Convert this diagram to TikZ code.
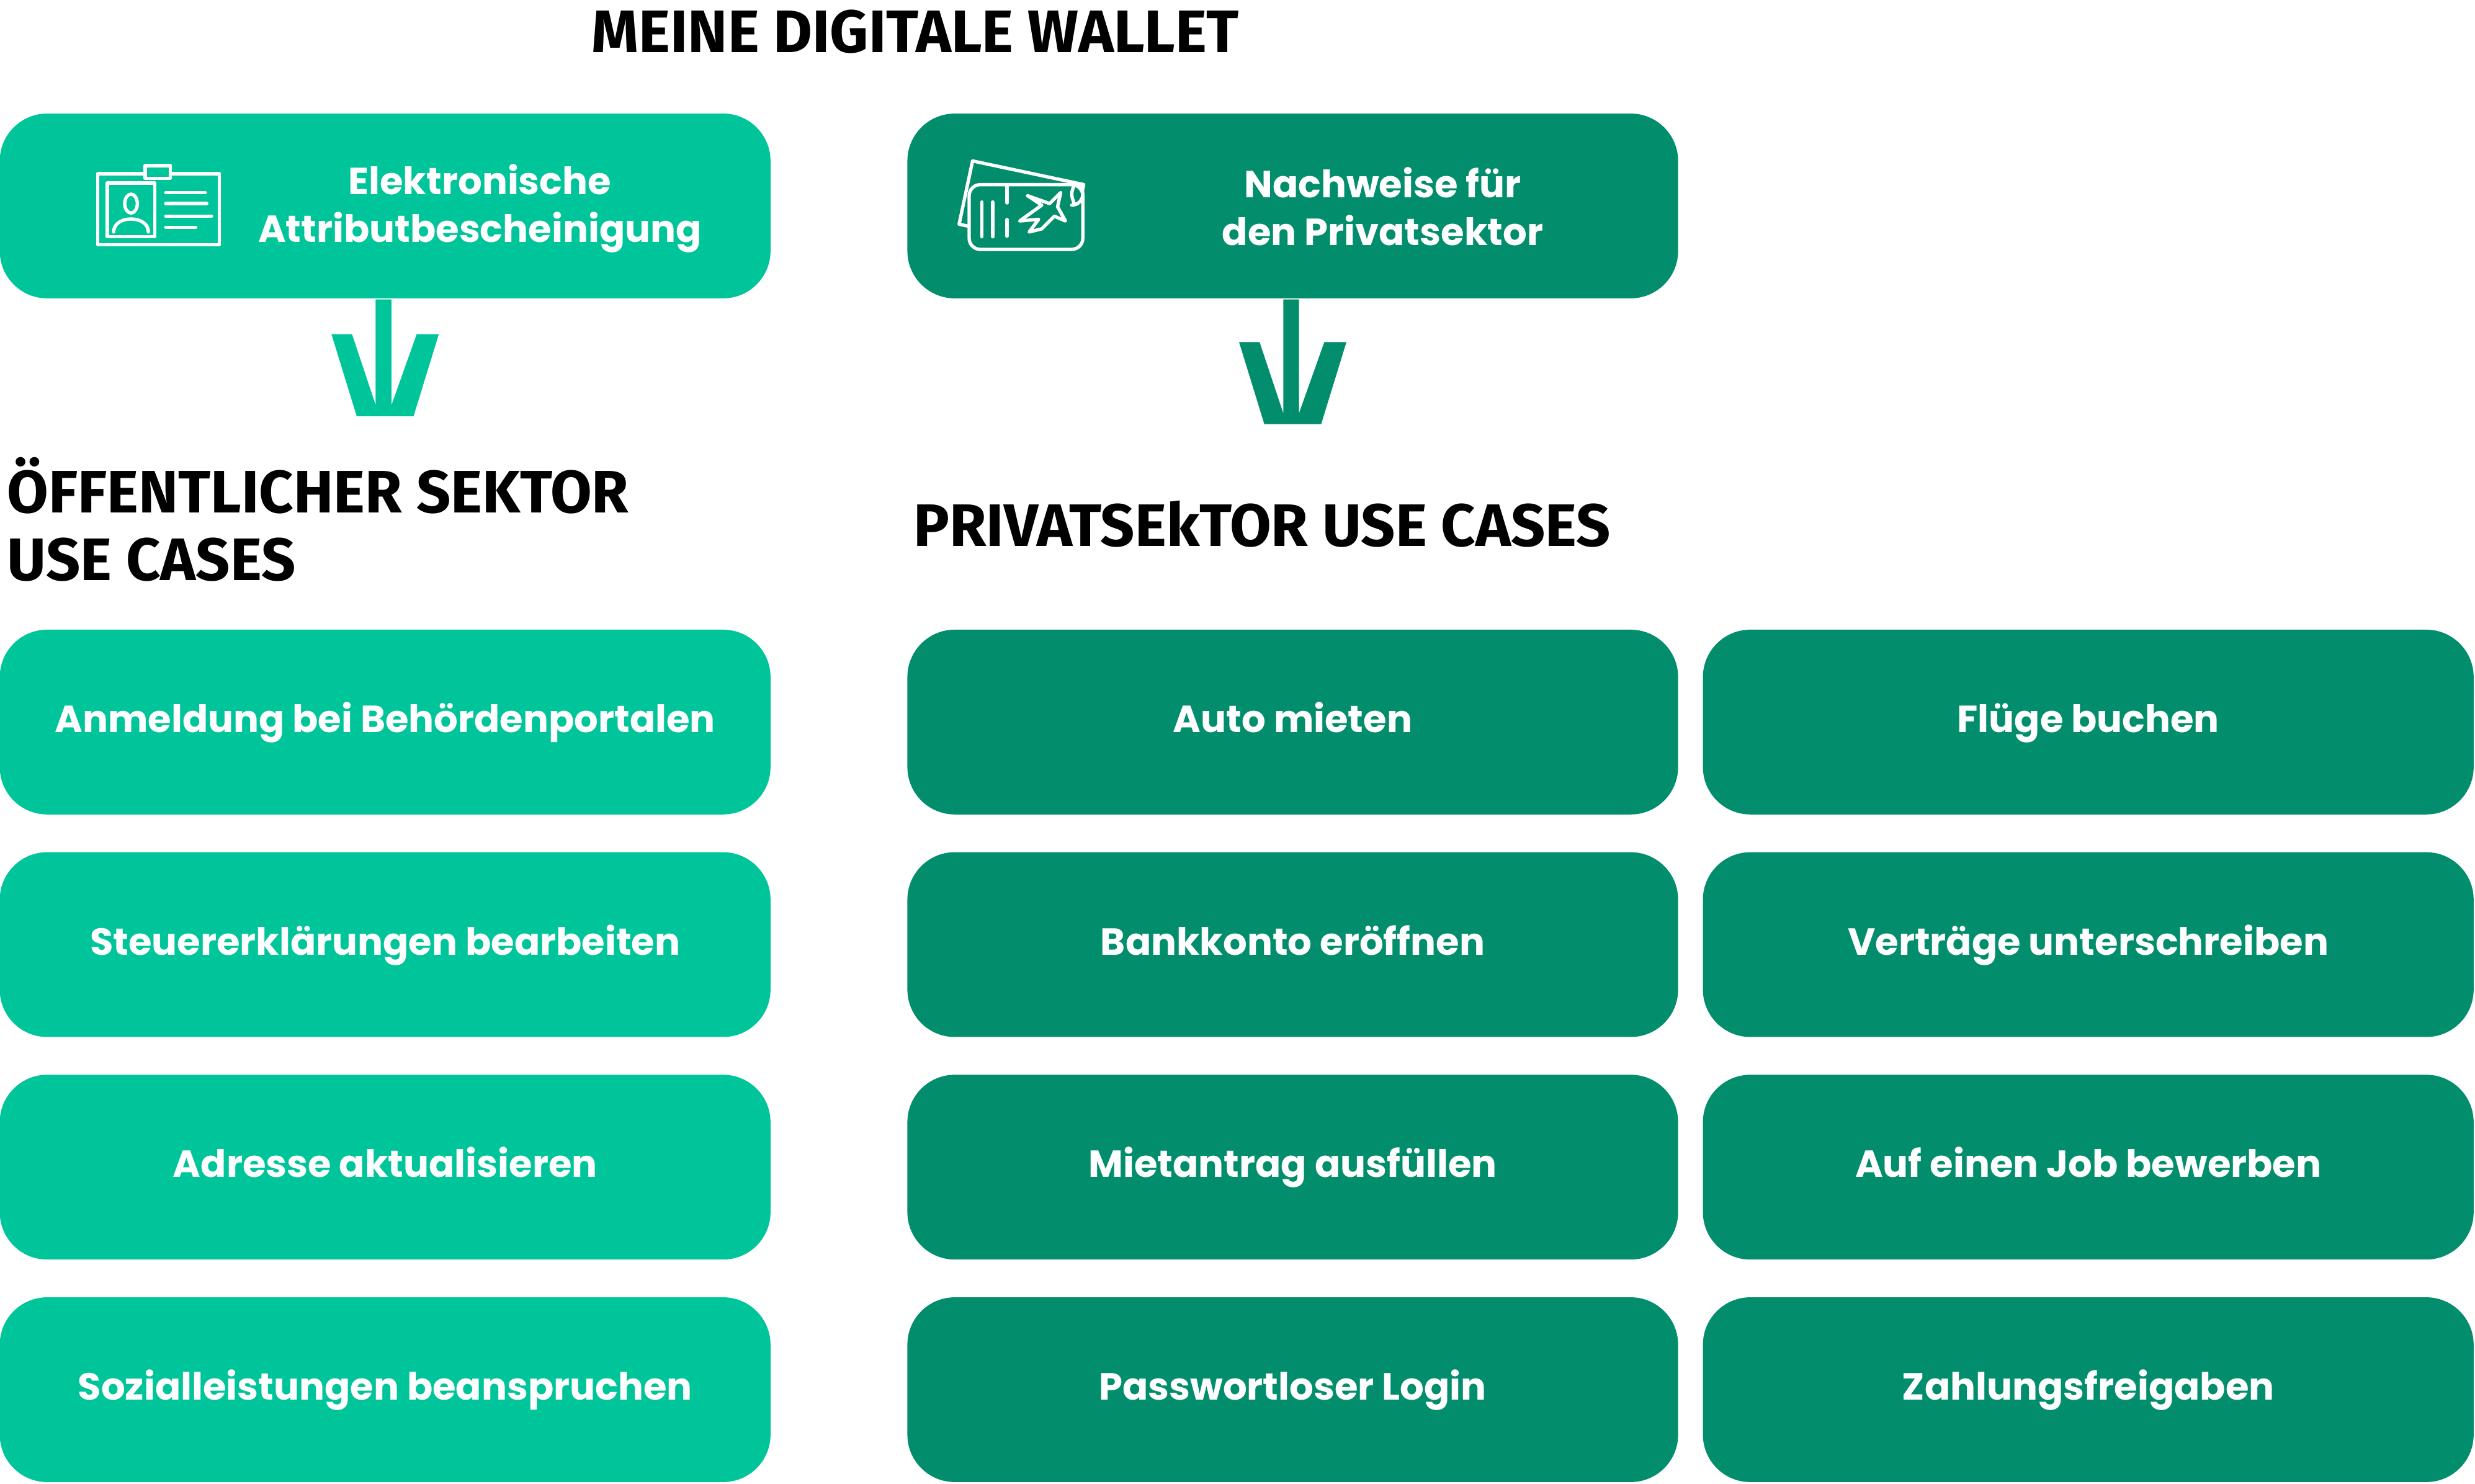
\documentclass[tikz,border=0pt]{standalone}
\usepackage{fontspec}
\setmainfont{Poppins}
\newfontfamily\headfont{Fira Sans}
\definecolor{pubgreen}{HTML}{00C49A}
\definecolor{privgreen}{HTML}{028E6C}
\tikzset{
  casebox/.style={minimum width=4.88cm, minimum height=1.17cm, rounded corners=0.3cm,
    inner sep=0pt, text=white, font=\fontsize{6.8}{9}\selectfont\bfseries, align=center,
    text height=1.8mm, text depth=0.5mm},
  pubbox/.style={casebox, fill=pubgreen},
  privbox/.style={casebox, fill=privgreen},
  toplabel/.style={text=white, font=\fontsize{6.8}{8.6}\selectfont\bfseries, align=center, inner sep=0pt},
  heading/.style={font=\headfont\fontsize{10.8}{13.2}\selectfont\bfseries, align=left, inner sep=0pt},
  iconline/.style={draw=white, line width=0.6pt, line join=round, line cap=round}
}
\begin{document}
\begin{tikzpicture}[x=0.01cm,y=-0.01cm]
	\useasboundingbox (0,0) rectangle (1568,940);
	% title
	\node[heading] (title) at (580,20) {MEINE DIGITALE WALLET};
	% top boxes
	\node[pubbox] (eaa) at (244,130.5) {};
	\node[toplabel] (eaatext) at (304,132) {Elektronische\\Attributbescheinigung};
	\node[privbox] (pvs) at (819,130.5) {};
	\node[toplabel] (pvstext) at (876,131) {Nachweise für\\den Privatsektor};
	% id card icon
	\draw[iconline] (62,110) rectangle (139,155);
	\draw[iconline, fill=pubgreen] (92,105) rectangle (108,113);
	\draw[iconline] (68,116) rectangle (98,150);
	\draw[iconline] (83,129) ellipse (4 and 6);
	\draw[iconline] (72,147) .. controls (72,136) and (94,136) .. (94,147);
	\foreach \yy/\len in {122/25,129/26,137/29,144/19}
		\draw[iconline] (105,\yy) -- ++(\len,0);
	% ticket icon
	\draw[iconline, rotate around={-12:(647,130)}] (611,109) rectangle (683,150);
	\draw[iconline, fill=privgreen, rounded corners=2pt] (614,117) -- (686,117) -- (686,130)
		arc (90:270:7) -- (686,158) -- (614,158) -- cycle;
	\draw[iconline, dashed] (638,118) -- (638,157);
	\draw[iconline] (622,128) -- (622,150) (629,128) -- (629,150);
	\draw[iconline] (652,147) -- (658,139) -- (646,140) -- (660,130) -- (651,124) -- (665,129) -- (672,122) -- (670,131) -- (675,140) -- (668,137) -- (660,145) -- cycle;
	% arrows
	\fill[pubgreen] (eaa.south) ++(-34,22) -- ++(13,0) -- ++(15,45) -- ++(0,-67) -- ++(10,0)
		-- ++(0,67) -- ++(16,-45) -- ++(14,0) -- ++(-16,52) -- ++(-36,0) -- cycle;
	\fill[privgreen] (pvs.south) ++(-34,27) -- ++(13,0) -- ++(15,45) -- ++(0,-72) -- ++(10,0)
		-- ++(0,72) -- ++(16,-45) -- ++(14,0) -- ++(-16,52) -- ++(-36,0) -- cycle;
	% section headings
	\node[heading, anchor=north west] (pubhead) at (4,289) {ÖFFENTLICHER SEKTOR\\[-1pt]USE CASES};
	\node[heading, anchor=west] (privhead) at (578,332) {PRIVATSEkTOR USE CASES};
	% public use cases
	\node[pubbox] (pub1) at (244,457.5) {Anmeldung bei Behördenportalen};
	\node[pubbox] (pub2) at (244,598.5) {Steuererklärungen bearbeiten};
	\node[pubbox] (pub3) at (244,739.5) {Adresse aktualisieren};
	\node[pubbox] (pub4) at (244,880.5) {Sozialleistungen beanspruchen};
	% private use cases
	\node[privbox] (priv1) at (819,457.5) {Auto mieten};
	\node[privbox] (priv2) at (819,598.5) {Bankkonto eröffnen};
	\node[privbox] (priv3) at (819,739.5) {Mietantrag ausfüllen};
	\node[privbox] (priv4) at (819,880.5) {Passwortloser Login};
	\node[privbox] (priv5) at (1323,457.5) {Flüge buchen};
	\node[privbox] (priv6) at (1323,598.5) {Verträge unterschreiben};
	\node[privbox] (priv7) at (1323,739.5) {Auf einen Job bewerben};
	\node[privbox] (priv8) at (1323,880.5) {Zahlungsfreigaben};
\end{tikzpicture}
\end{document}
